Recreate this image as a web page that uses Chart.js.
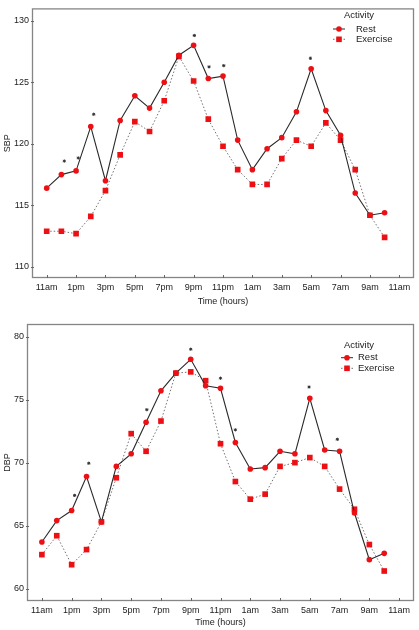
<!DOCTYPE html>
<html>
<head>
<meta charset="utf-8">
<script src="https://cdn.jsdelivr.net/npm/chart.js@4.4.1/dist/chart.umd.min.js"></script>
<style>
  html, body { margin: 0; padding: 0; background: #fff; }
  #wrap { position: relative; width: 419px; height: 630px; }
  canvas { position: absolute; left: 0; }
  #chartSbp { top: 0; }
  #chartDbp { top: 314px; }
</style>
</head>
<body>
<div id="wrap">
  <canvas id="chartSbp" width="419" height="314"></canvas>
  <canvas id="chartDbp" width="419" height="316"></canvas>
</div>
<script>
// hourly readings, 11am .. 10am next day
let hours = ['11am', '12pm', '1pm', '2pm', '3pm', '4pm', '5pm', '6pm', '7pm', '8pm', '9pm', '10pm',
  '11pm', '12am', '1am', '2am', '3am', '4am', '5am', '6am', '7am', '8am', '9am', '10am'];
let tickLabels = ['11am', '1pm', '3pm', '5pm', '7pm', '9pm', '11pm', '1am', '3am', '5am', '7am', '9am', '11am'];

let sbpRest = [116.4, 117.5, 117.8, 121.4, 117.0, 121.9, 123.9, 122.9, 125.0, 127.2, 128.0, 125.3,
  125.5, 120.3, 117.9, 119.6, 120.5, 122.6, 126.1, 122.7, 120.7, 116.0, 114.2, 114.4];
let sbpExercise = [112.9, 112.9, 112.7, 114.1, 116.2, 119.1, 121.8, 121.0, 123.5, 127.1, 125.1, 122.0,
  119.8, 117.9, 116.7, 116.7, 118.8, 120.3, 119.8, 121.7, 120.3, 117.9, 114.2, 112.4];
let sbpStarX = [1.2, 2.15, 3.2, 10.05, 11.05, 12.05, 17.95];
let sbpStarY = [118.6, 118.85, 122.4, 128.8, 126.25, 126.35, 126.95];

let dbpRest = [63.7, 65.4, 66.2, 68.9, 65.3, 69.7, 70.7, 73.2, 75.7, 77.1, 78.2, 76.1,
  75.9, 71.6, 69.5, 69.6, 70.9, 70.7, 75.1, 71.0, 70.9, 66.0, 62.3, 62.8];
let dbpExercise = [62.7, 64.2, 61.9, 63.1, 65.3, 68.8, 72.3, 70.9, 73.3, 77.1, 77.2, 76.5,
  71.5, 68.5, 67.1, 67.5, 69.7, 70.0, 70.4, 69.7, 67.9, 66.3, 63.5, 61.4];
let dbpStarX = [2.2, 3.15, 7.05, 10, 12, 13, 17.95, 19.85];
let dbpStarY = [67.4, 69.95, 74.2, 79.0, 76.7, 72.6, 76.0, 71.85];

let seriesNames = ['Rest', 'Exercise'];
let red = 'rgb(236, 16, 20)';
let fontFamily = '"Liberation Sans", Arial, sans-serif';

Chart.defaults.font.family = fontFamily;
Chart.defaults.font.size = 9;
Chart.defaults.color = '#222';

function toPoints(xs, ys) {
  return ys.map((v, i) => ({ x: xs ? xs[i] : i, y: v }));
}

// plot frame and little inward ticks
let framePlugin = {
  id: 'frame',
  beforeDatasetsDraw(chart) {
    let ctx = chart.ctx;
    let a = chart.chartArea;
    ctx.save();
    ctx.strokeStyle = '#858585';
    ctx.lineWidth = 1.3;
    ctx.strokeRect(a.left + 0.5, a.top + 0.5, a.width - 1, a.height - 1);
    ctx.lineWidth = 1;
    ctx.strokeStyle = '#666';
    chart.scales.x.ticks.forEach(t => {
      let px = Math.round(chart.scales.x.getPixelForValue(t.value)) + 0.5;
      ctx.beginPath(); ctx.moveTo(px, a.bottom); ctx.lineTo(px, a.bottom - 3); ctx.stroke();
    });
    chart.scales.y.ticks.forEach(t => {
      let py = Math.round(chart.scales.y.getPixelForValue(t.value)) + 0.5;
      ctx.beginPath(); ctx.moveTo(a.left - 1, py); ctx.lineTo(a.left + 2, py); ctx.stroke();
    });
    ctx.restore();
  }
};

// legend box like the stats package draws it
let legendPlugin = {
  id: 'miniLegend',
  afterDraw(chart, args, opts) {
    let ctx = chart.ctx;
    ctx.save();
    ctx.font = '9.5px ' + fontFamily;
    ctx.fillStyle = '#222';
    ctx.textBaseline = 'middle';
    ctx.fillText('Activity', opts.titleX, opts.titleY);
    seriesNames.forEach((name, i) => {
      let ds = chart.data.datasets[i];
      let y = opts.rowY[i];
      ctx.strokeStyle = ds.borderColor;
      ctx.lineWidth = 1;
      ctx.setLineDash(ds.borderDash || []);
      ctx.beginPath(); ctx.moveTo(opts.lineX[0], y); ctx.lineTo(opts.lineX[1], y); ctx.stroke();
      ctx.setLineDash([]);
      ctx.fillStyle = red;
      let mx = (opts.lineX[0] + opts.lineX[1]) / 2;
      if (ds.pointStyle === 'rect') {
        ctx.fillRect(mx - 2.8, y - 2.8, 5.6, 5.6);
      } else {
        ctx.beginPath(); ctx.arc(mx, y, 2.8, 0, Math.PI * 2); ctx.fill();
      }
      ctx.fillStyle = '#222';
      ctx.fillText(name, opts.textX, y);
    });
    ctx.restore();
  }
};

function makeChart(id, rest, exercise, starX, starY, cfg) {
  return new Chart(document.getElementById(id).getContext('2d'), {
    type: 'line',
    data: {
      datasets: [{
        label: seriesNames[0],
        data: toPoints(null, rest),
        borderColor: '#2a2a2a',
        borderWidth: 1.1,
        pointStyle: 'circle',
        pointRadius: 2.8,
        pointBackgroundColor: red,
        pointBorderWidth: 0,
        order: 1
      }, {
        label: seriesNames[1],
        data: toPoints(null, exercise),
        borderColor: '#707070',
        borderWidth: 1,
        borderDash: [1.5, 2],
        pointStyle: 'rect',
        pointRadius: 4,
        pointBackgroundColor: red,
        pointBorderWidth: 0,
        order: 2
      }, {
        label: 'sig',
        data: toPoints(starX, starY),
        showLine: false,
        pointStyle: 'star',
        pointRadius: 1.6,
        pointBorderColor: '#333',
        pointBorderWidth: 1,
        order: 0
      }]
    },
    options: {
      responsive: false,
      animation: false,
      devicePixelRatio: 1,
      layout: { padding: cfg.padding },
      plugins: {
        legend: { display: false },
        tooltip: { enabled: false },
        miniLegend: cfg.legend
      },
      scales: {
        x: {
          type: 'linear',
          min: -1,
          max: 25,
          grid: { display: false, drawTicks: false },
          border: { display: false },
          afterBuildTicks: s => { s.ticks = tickLabels.map((t, i) => ({ value: i * 2 })); },
          afterFit: s => { s.height = cfg.xHeight; },
          ticks: {
            padding: 4,
            maxRotation: 0,
            autoSkip: false,
            callback: v => tickLabels[v / 2]
          },
          title: { display: true, text: 'Time (hours)', padding: { top: 0, bottom: cfg.titlePad } }
        },
        y: {
          min: cfg.yMin,
          max: cfg.yMax,
          grid: { display: false, drawTicks: false },
          border: { display: false },
          afterBuildTicks: s => { s.ticks = cfg.yTicks.map(v => ({ value: v })); },
          afterFit: s => { s.width = cfg.yWidth; },
          ticks: { padding: 3 },
          title: { display: true, text: cfg.yTitle, padding: { top: 2, bottom: 0 } }
        }
      }
    },
    plugins: [framePlugin, legendPlugin]
  });
}

let chartSbp = makeChart('chartSbp', sbpRest, sbpExercise, sbpStarX, sbpStarY, {
  padding: { top: 2, right: 2, left: 0, bottom: 0 },
  xHeight: 36, titlePad: 6.6, yWidth: 32,
  yMin: 109.1, yMax: 131, yTicks: [110, 115, 120, 125, 130], yTitle: 'SBP',
  legend: { titleX: 344, titleY: 15, rowY: [29, 39.3], lineX: [333, 345], textX: 356 }
});

let chartDbp = makeChart('chartDbp', dbpRest, dbpExercise, dbpStarX, dbpStarY, {
  padding: { top: 10, right: 2, left: 0, bottom: 0 },
  xHeight: 29, titlePad: 1.6, yWidth: 27,
  yMin: 59.02, yMax: 81, yTicks: [60, 65, 70, 75, 80], yTitle: 'DBP',
  legend: { titleX: 344, titleY: 31, rowY: [43.7, 54.3], lineX: [341, 353], textX: 358 }
});
</script>
</body>
</html>
